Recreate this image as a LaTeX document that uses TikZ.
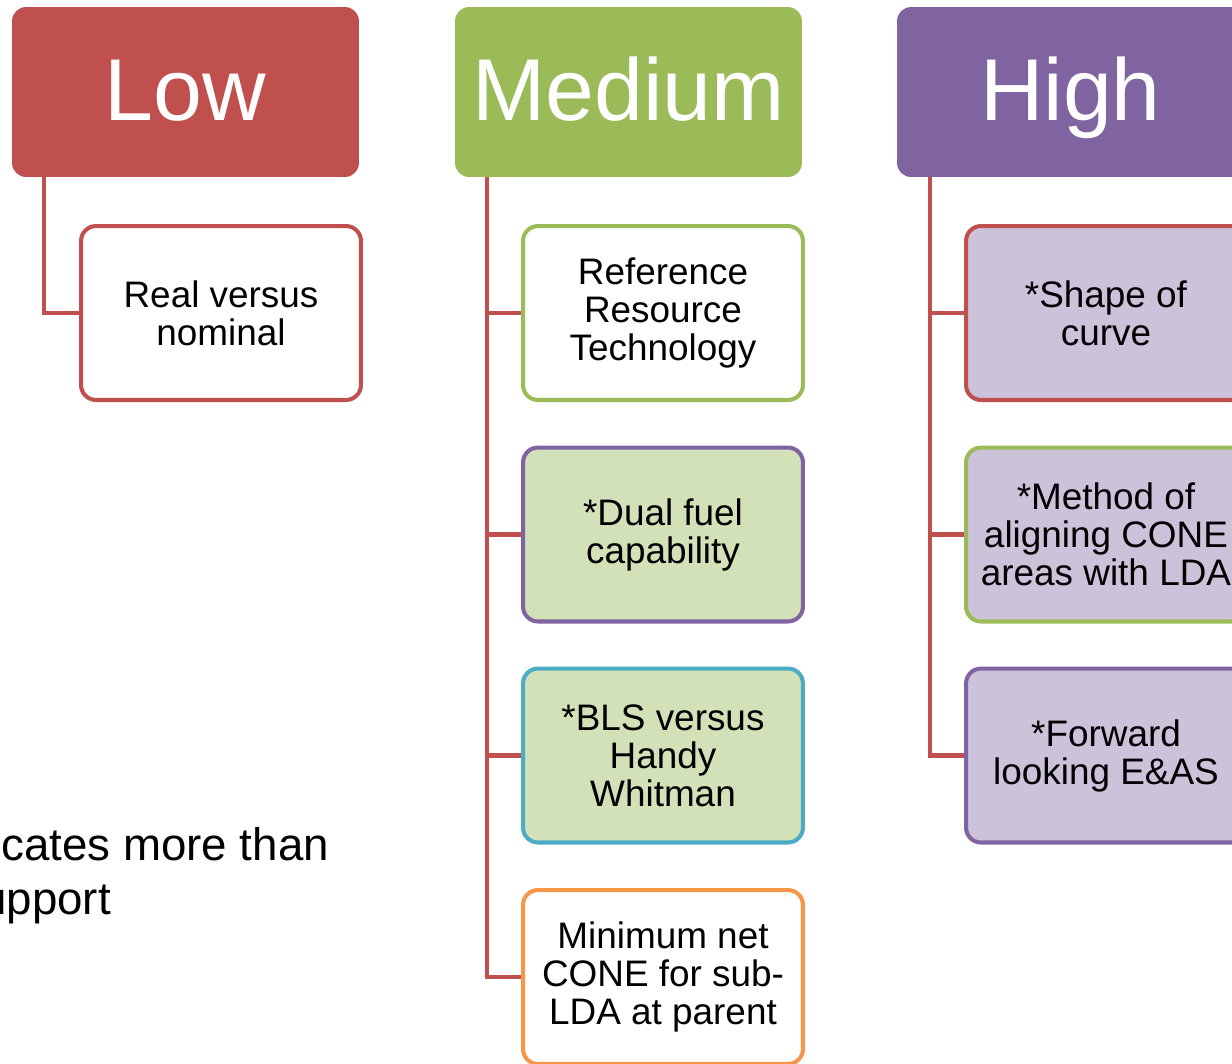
\documentclass[tikz,border=0pt]{standalone}
\usepackage{fontspec}
\setmainfont{Liberation Sans}
\usetikzlibrary{positioning}
\definecolor{lowred}{HTML}{C0504D}
\definecolor{medgreen}{HTML}{9BBB59}
\definecolor{highpurple}{HTML}{8064A2}
\definecolor{bluecyan}{HTML}{4BACC6}
\definecolor{orangeedge}{HTML}{F79646}
\definecolor{palegreen}{HTML}{D3E1B8}
\definecolor{palelilac}{HTML}{CCC2DA}

\begin{document}
\begin{tikzpicture}[x=0.02cm, y=-0.02cm,
	head/.style={rounded corners=0.28cm, minimum width=6.94cm, minimum height=3.4cm, inner sep=0pt,
		text=white, text height=1.3cm, text depth=0.18cm, font=\fontsize{50}{50}\selectfont},
	item/.style={draw, line width=2.3pt, rounded corners=0.3cm, minimum width=5.6cm, minimum height=3.48cm,
		inner sep=0pt, align=center, font=\fontsize{21}{21.6}\selectfont},
	link/.style={draw=lowred, line width=2.3pt}]
	\useasboundingbox (0,0) rectangle (1232,1063);
	\clip (0,0) rectangle (1232,1063);
	% headers
	\node[head, fill=lowred] (low) at (185.5,92) {Low};
	\node[head, fill=medgreen] (med) at (628.5,92) {Medium};
	\node[head, fill=highpurple] (high) at (1070.5,92) {High};
	% low column
	\node[item, draw=lowred, fill=white] (l1) at (221,313) {Real versus\\nominal};
	% medium column
	\node[item, draw=medgreen, fill=white] (m1) at (663,313) {Reference\\Resource\\Technology};
	\node[item, draw=highpurple, fill=palegreen] (m2) at (663,534.5) {*Dual fuel\\capability};
	\node[item, draw=bluecyan, fill=palegreen] (m3) at (663,755.5) {*BLS versus\\Handy\\Whitman};
	\node[item, draw=orangeedge, fill=white] (m4) at (663,977) {Minimum net\\CONE for sub-\\LDA at parent};
	% high column
	\node[item, draw=lowred, fill=palelilac] (h1) at (1106,313) {*Shape of\\curve};
	\node[item, draw=medgreen, fill=palelilac] (h2) at (1106,534.5) {*Method of\\aligning CONE\\areas with LDA};
	\node[item, draw=highpurple, fill=palelilac] (h3) at (1106,755.5) {*Forward\\looking E\&AS};
	% connectors
	\draw[link] ([xshift=0.64cm]low.south west) |- (l1.west);
	\draw[link] ([xshift=0.64cm]med.south west) |- (m4.west);
	\foreach \n in {m1,m2,m3}
		\draw[link] ([xshift=0.64cm]med.south west |- \n.west) -- (\n.west);
	\draw[link] ([xshift=0.66cm]high.south west) |- (h3.west);
	\foreach \n in {h1,h2}
		\draw[link] ([xshift=0.66cm]high.south west |- \n.west) -- (\n.west);
	% note
	\node[anchor=base west, inner sep=0pt, font=\fontsize{26}{26}\selectfont] (note1) at (1,860) {cates more than};
	\node[anchor=base west, inner sep=0pt, font=\fontsize{26}{26}\selectfont] (note2) at (-19,914) {upport};
\end{tikzpicture}
\end{document}
